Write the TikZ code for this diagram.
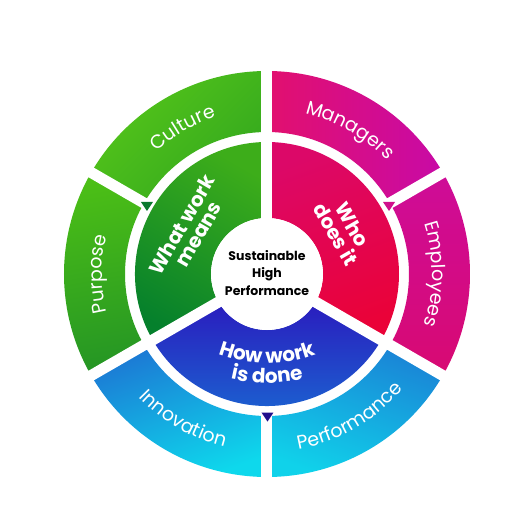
\documentclass[tikz,border=0pt]{standalone}
\usepackage{fontspec}
\setmainfont{Poppins}
\usetikzlibrary{decorations.text}
\definecolor{cultA}{HTML}{55C51A}
\definecolor{cultB}{HTML}{33A81E}
\definecolor{purpA}{HTML}{4CBF16}
\definecolor{purpB}{HTML}{259624}
\definecolor{wwmA}{HTML}{3DAD1A}
\definecolor{wwmB}{HTML}{05802C}
\definecolor{manA}{HTML}{E2106E}
\definecolor{manB}{HTML}{C80AA6}
\definecolor{empA}{HTML}{CE0C98}
\definecolor{empB}{HTML}{D80A72}
\definecolor{whoA}{HTML}{DC0868}
\definecolor{whoB}{HTML}{EA0238}
\definecolor{howA}{HTML}{2A1CBE}
\definecolor{howB}{HTML}{1A68D2}
\definecolor{innA}{HTML}{1C78D4}
\definecolor{innB}{HTML}{0ED8EC}
\definecolor{perA}{HTML}{1A84D6}
\definecolor{perB}{HTML}{10D2EA}
\definecolor{triG}{HTML}{0B7A2E}
\definecolor{triM}{HTML}{D0108C}
\definecolor{triB}{HTML}{22108C}
\newcommand\mysector[5]{\shade[#5] (#1:#3pt) arc[start angle=#1,end angle=#2,radius=#3pt] -- (#2:#4pt) arc[start angle=#2,end angle=#1,radius=#4pt] -- cycle;}
\newcommand\outerfont{\fontsize{19}{19}\selectfont\color{white}}
\newcommand\innerfont{\fontsize{20}{20}\selectfont\bfseries\color{white}}
\newcommand\arctext[5]{\path[decorate,decoration={text along path,text align=center,text={|\outerfont|#5}}] (#1) ++(#2:#4pt) arc[start angle=#2,end angle=#3,radius=#4pt];}
\newcommand\arctextb[5]{\path[decorate,decoration={text along path,text align=center,text={|\innerfont|#5}}] (#1) ++(#2:#4pt) arc[start angle=#2,end angle=#3,radius=#4pt];}
\tikzset{
  gapline/.style={white, line width=11pt},
  innerlabel/.style={text=white, font=\fontsize{20}{20}\selectfont\bfseries, align=center, inner sep=0pt},
  centerlabel/.style={text=black, font=\fontsize{12.5}{17.5}\selectfont\bfseries, align=center, inner sep=0pt}
}
\begin{document}
\begin{tikzpicture}
\fill[white] (-267pt,-232pt) rectangle (247pt,274pt);
\useasboundingbox (-267pt,-232pt) rectangle (247pt,274pt);
\coordinate (O) at (0pt,0pt);
% outer ring
\mysector{90}{150}{142}{203}{top color=cultA, bottom color=cultB, shading angle=45}
\mysector{150}{210}{142}{203}{top color=purpA, bottom color=purpB, shading angle=10}
\mysector{30}{90}{142}{203}{left color=manA, right color=manB}
\mysector{-30}{30}{142}{203}{top color=empA, bottom color=empB}
\mysector{210}{270}{142}{203}{top color=innA, bottom color=innB, shading angle=20}
\mysector{270}{330}{142}{203}{top color=perA, bottom color=perB, shading angle=-20}
% inner ring
\mysector{90}{210}{56}{132}{top color=wwmA, bottom color=wwmB, shading angle=-30}
\mysector{-30}{90}{56}{132}{top color=whoA, bottom color=whoB, shading angle=20}
\mysector{210}{330}{56}{132}{top color=howA, bottom color=howB}
% gaps
\draw[gapline] (90:40pt) -- (90:215pt);
\draw[gapline] (210:40pt) -- (210:215pt);
\draw[gapline] (330:40pt) -- (330:215pt);
\draw[gapline] (270:134pt) -- (270:215pt);
\draw[gapline] (150:134pt) -- (150:215pt);
\draw[gapline] (30:134pt) -- (30:215pt);
\fill[white] (O) circle[radius=56pt];
% triangles
\fill[triG] (-126pt,72pt) -- (-114pt,72pt) -- (-120pt,63pt) -- cycle;
\fill[triM] (116pt,72pt) -- (128pt,72pt) -- (122pt,63pt) -- cycle;
\fill[triB] (-5.5pt,-138.5pt) -- (6.5pt,-138.5pt) -- (0.5pt,-147.5pt) -- cycle;
% outer labels
\arctext{O}{150}{90}{165}{Culture}
\arctext{O}{90}{30}{165}{Managers}
\arctext{O}{210}{150}{165}{Purpose}
\arctext{O}{30}{-30}{165}{Employees}
\arctext{O}{210}{270}{178}{Innovation}
\arctext{O}{270}{330}{178}{Performance}
% inner labels
\node[innerlabel, rotate=60] (wwm) at (150:89pt) {What work\\[-1pt]means};
\node[innerlabel, rotate=-60] (who) at (30:89pt) {Who\\[-1pt]does it};
\coordinate (hc) at (0pt,51pt);
\arctextb{hc}{244}{296}{140}{How work}
\arctextb{hc}{242}{298}{160}{is done}
\node[centerlabel] (shp) at (0pt,1pt) {Sustainable\\High\\Performance};
\end{tikzpicture}
\end{document}
